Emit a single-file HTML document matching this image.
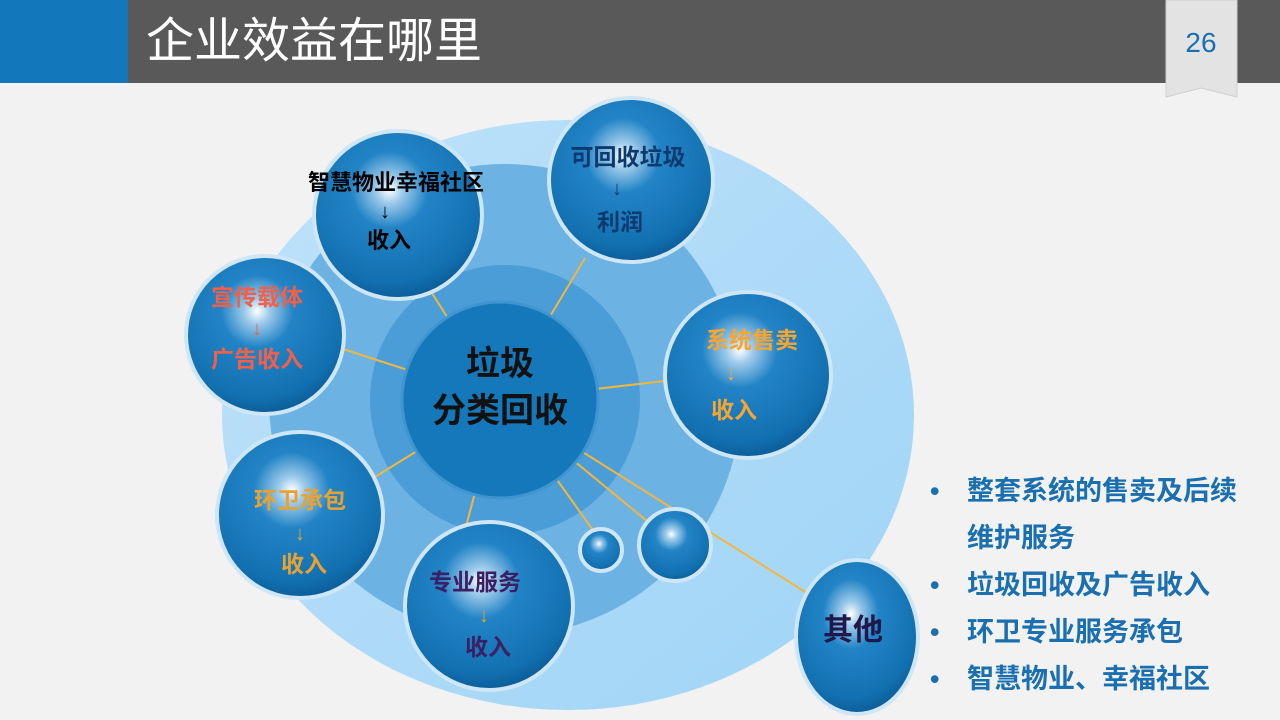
<!DOCTYPE html>
<html><head><meta charset="utf-8"><style>
body{margin:0;width:1280px;height:720px;overflow:hidden;background:#f2f2f2;font-family:"Liberation Sans","Noto Sans CJK SC",sans-serif}
svg{position:absolute;left:0;top:0}
.hd{position:absolute;left:0;top:0;width:1280px;height:83px;background:#595959}
.bl{position:absolute;left:0;top:0;width:128px;height:83px;background:#1277bb}
.tt{position:absolute;left:146px;top:13px;color:#fff;font-size:48px;line-height:58px}
.bul{position:absolute;left:930px;top:468px;color:#1a6fb0;font-weight:bold;font-size:27px;line-height:47px}
.bul div{position:relative;padding-left:37px}
.bul div.d::before{content:"•";position:absolute;left:0;color:#1a6fb0}
</style></head><body>
<div class="hd"></div><div class="bl"></div>
<div class="tt">企业效益在哪里</div>
<svg width="1280" height="720" viewBox="0 0 1280 720">
<defs>
<radialGradient id="bb" cx="0.45" cy="0.35" r="0.65">
<stop offset="0" stop-color="#ffffff"/><stop offset="0.12" stop-color="#9fcbea"/><stop offset="0.35" stop-color="#2284c6"/><stop offset="0.85" stop-color="#1270b0"/><stop offset="1" stop-color="#0c5d99"/>
</radialGradient>
<linearGradient id="el" x1="0" y1="0" x2="1" y2="1"><stop offset="0" stop-color="#bfe2fa"/><stop offset="1" stop-color="#9fd4f6"/></linearGradient>
</defs>
<path d="M1166 0H1237V97L1201 88L1166 97Z" fill="#e3e3e3" stroke="#cfcfcf"/>
<text x="1201" y="52" text-anchor="middle" font-size="28" fill="#1a6fb0" font-family="Liberation Sans">26</text>
<ellipse cx="568" cy="415" rx="346" ry="295" fill="url(#el)"/>
<circle cx="505" cy="400" r="236" fill="#6cb3e3"/>
<circle cx="505" cy="400" r="135" fill="#4a9dd6"/>
<g stroke="#f2b640" stroke-width="2">
<line x1="500" y1="400" x2="585" y2="258"/><line x1="500" y1="400" x2="430" y2="290"/>
<line x1="500" y1="400" x2="340" y2="348"/><line x1="500" y1="400" x2="760" y2="370"/>
<line x1="500" y1="400" x2="370" y2="480"/><line x1="500" y1="400" x2="465" y2="530"/>
<line x1="500" y1="400" x2="600" y2="540"/><line x1="500" y1="400" x2="670" y2="540"/>
<line x1="500" y1="400" x2="810" y2="595"/></g>
<circle cx="500" cy="400" r="98" fill="#1478ba" stroke="#3f95cf" stroke-width="3"/>
<g stroke="#cfe6f7" stroke-width="4" fill="url(#bb)">
<circle cx="398" cy="215" r="84"/><circle cx="631" cy="180" r="82"/>
<circle cx="265" cy="335" r="79"/><circle cx="748" cy="375" r="83"/>
<circle cx="300" cy="515" r="83"/><circle cx="489" cy="606" r="84"/>
<circle cx="601" cy="550" r="21"/><circle cx="675" cy="545" r="36"/>
<ellipse cx="857" cy="637" rx="61" ry="77"/></g>
<g font-weight="bold" text-anchor="middle" font-family="Liberation Sans,Noto Sans CJK SC,sans-serif">
<text x="500" y="375" font-size="34" fill="#111">垃圾</text>
<text x="500" y="422" font-size="34" fill="#111">分类回收</text>
<text x="396" y="190" font-size="22" fill="#000">智慧物业幸福社区</text>
<text x="385" y="218" font-size="20" fill="#000">↓</text>
<text x="389" y="248" font-size="22" fill="#000">收入</text>
<text x="628" y="165" font-size="23" fill="#0d3a6e">可回收垃圾</text>
<text x="617" y="195" font-size="20" fill="#0d3a6e">↓</text>
<text x="620" y="230" font-size="23" fill="#0d3a6e">利润</text>
<text x="257" y="305" font-size="23" fill="#f0604a">宣传载体</text>
<text x="257" y="335" font-size="20" fill="#f0604a">↓</text>
<text x="257" y="367" font-size="23" fill="#f0604a">广告收入</text>
<text x="752" y="348" font-size="23" fill="#f7a531">系统售卖</text>
<text x="731" y="380" font-size="20" fill="#f7a531">↓</text>
<text x="734" y="418" font-size="23" fill="#f7a531">收入</text>
<text x="300" y="508" font-size="23" fill="#e8a232">环卫承包</text>
<text x="300" y="540" font-size="20" fill="#e8a232">↓</text>
<text x="304" y="572" font-size="23" fill="#e8a232">收入</text>
<text x="475" y="590" font-size="23" fill="#3a1f63">专业服务</text>
<text x="484" y="622" font-size="20" fill="#e8a232">↓</text>
<text x="488" y="655" font-size="23" fill="#3a1f63">收入</text>
<text x="853" y="640" font-size="30" fill="#20184a">其他</text>
</g>
</svg>
<div class="bul">
<div class="d">整套系统的售卖及后续</div>
<div>维护服务</div>
<div class="d">垃圾回收及广告收入</div>
<div class="d">环卫专业服务承包</div>
<div class="d">智慧物业、幸福社区</div>
</div>
</body></html>
